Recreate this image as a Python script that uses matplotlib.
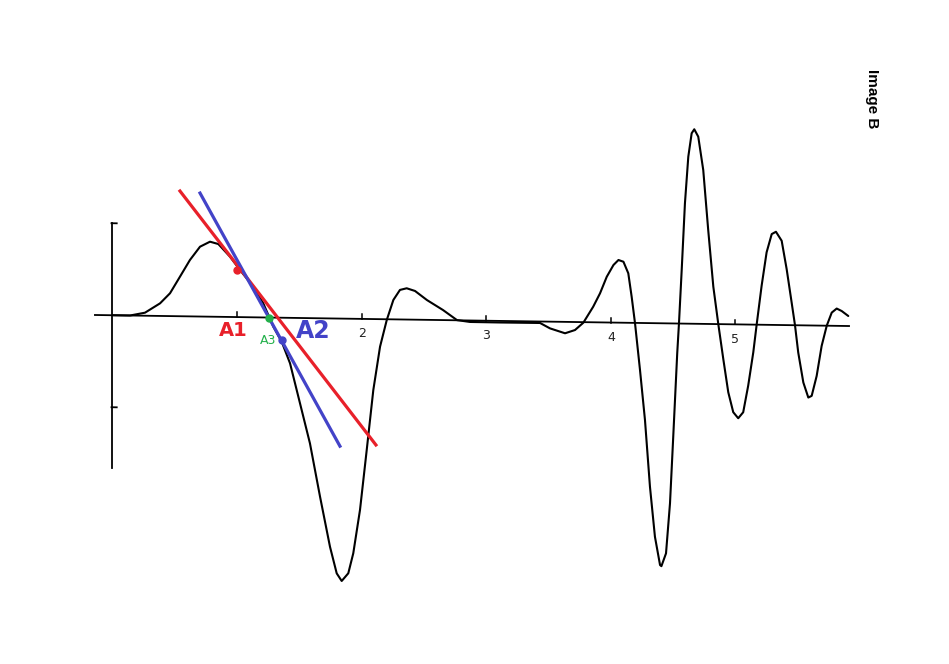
import numpy as np
import matplotlib
matplotlib.use("Agg")
import matplotlib.pyplot as plt
from matplotlib.transforms import Affine2D

# waveform (x in axis units, y relative to the drawn baseline)
wave_x = [0.0, 0.137, 0.257, 0.378, 0.458, 0.538, 0.618, 0.699, 0.779, 0.846,
          0.940, 1.020, 1.127, 1.207, 1.288, 1.355, 1.422, 1.502, 1.582, 1.663,
          1.743, 1.797, 1.837, 1.890, 1.930, 1.984, 2.038, 2.091, 2.145, 2.199,
          2.252, 2.305, 2.359, 2.426, 2.522, 2.651, 2.763, 2.867, 3.108, 3.43,
          3.51, 3.631, 3.711, 3.778, 3.857, 3.912, 3.966, 4.02, 4.06, 4.10,
          4.139, 4.166, 4.193, 4.233, 4.273, 4.313, 4.353, 4.394, 4.405, 4.442,
          4.474, 4.50, 4.532, 4.546, 4.568, 4.594, 4.621, 4.648, 4.669, 4.701,
          4.741, 4.781, 4.822, 4.862, 4.902, 4.942, 4.982, 5.022, 5.062, 5.102,
          5.143, 5.17, 5.21, 5.25, 5.291, 5.325, 5.371, 5.411, 5.451, 5.478,
          5.504, 5.545, 5.585, 5.612, 5.652, 5.692, 5.733, 5.773, 5.813, 5.853,
          5.906]
wave_y = [0.0, 0.0, 0.033, 0.137, 0.248, 0.430, 0.613, 0.759, 0.815, 0.791,
          0.655, 0.512, 0.333, 0.154, -0.099, -0.261, -0.494, -0.927, -1.361, -1.939,
          -2.482, -2.770, -2.852, -2.767, -2.549, -2.077, -1.424, -0.771, -0.299, -0.008,
          0.211, 0.321, 0.340, 0.312, 0.215, 0.109, 0.002, -0.016, -0.017, -0.016,
          -0.073, -0.124, -0.087, -0.006, 0.169, 0.316, 0.497, 0.626, 0.681, 0.663,
          0.538, 0.284, -0.004, -0.511, -1.054, -1.778, -2.321, -2.628, -2.64, -2.50,
          -1.955, -1.232, -0.324, 0.0, 0.583, 1.308, 1.815, 2.07, 2.114, 2.034,
          1.673, 1.02, 0.406, 0.0, -0.378, -0.739, -0.955, -1.02, -0.954, -0.665,
          -0.301, 0.0, 0.424, 0.788, 0.987, 1.013, 0.916, 0.609, 0.247, 0.0,
          -0.296, -0.621, -0.784, -0.765, -0.548, -0.221, 0.0, 0.143, 0.188, 0.162,
          0.109]

# hand-drawn tangent lines and points
red_x = [0.538, 2.112]
red_y = [1.361, -1.368]
blue_x = [0.699, 1.823]
blue_y = [1.342, -1.387]
pt_a1 = (0.996, 0.512)
pt_a2 = (1.357, -0.243)
pt_a3 = (1.253, 0.0)

tick_pos = [1, 2, 3, 4, 5]
tick_labels = ["", "2", "3", "4", "5"]

fig = plt.figure(figsize=(9.49, 6.64), dpi=100)
ax = fig.add_axes([0, 0, 1, 1])
ax.set_xlim(-0.9076, 6.715)
ax.set_ylim(-3.7907, 3.4267)
ax.axis('off')

# the scanned baseline sags slightly to the right
tr = Affine2D().skew(0, np.arctan(-0.0198)) + ax.transData

# axes as drawn
ax.plot([-0.145, 5.912], [0, 0], color='black', lw=1.3, transform=tr)
ax.plot([-0.012, -0.012], [1.0, -1.66], color='black', lw=1.3, transform=tr)
ax.plot([-0.012, 0.03], [1.0, 1.0], color='black', lw=1.3, transform=tr)
ax.plot([-0.012, 0.03], [-1.0, -1.0], color='black', lw=1.3, transform=tr)
for t, lab in zip(tick_pos, tick_labels):
    ax.plot([t, t], [0, 0.05], color='black', lw=1.1, transform=tr)
    if lab:
        ax.text(t, -0.16, lab, ha='center', va='center', fontsize=9,
                color='#222222', transform=tr)

ax.plot(wave_x, wave_y, color='black', lw=1.5, solid_joinstyle='round',
        solid_capstyle='round', transform=tr)

ax.plot(red_x, red_y, color='#e8202a', lw=2.3, transform=tr)
ax.plot(blue_x, blue_y, color='#4343c8', lw=2.3, transform=tr)
ax.plot(*pt_a1, 'o', color='#e8202a', ms=5, transform=tr)
ax.plot(*pt_a2, 'o', color='#4343c8', ms=5, transform=tr)
ax.plot(*pt_a3, 'o', color='#22b04a', ms=5, transform=tr)

ax.text(0.964, -0.152, "A1", color='#e8202a', fontsize=14, fontweight='bold',
        ha='center', va='center', transform=tr)
ax.text(1.606, -0.139, "A2", color='#4343c8', fontsize=17, fontweight='bold',
        ha='center', va='center', transform=tr)
ax.text(1.245, -0.245, "A3", color='#22b04a', fontsize=9,
        ha='center', va='center', transform=tr)

fig.text(872 / 949, 1 - 99 / 664, "Image B", rotation=-90, fontsize=11,
         fontweight='bold', family='Liberation Sans', ha='center', va='center')

fig.savefig("out.png", dpi=100)
